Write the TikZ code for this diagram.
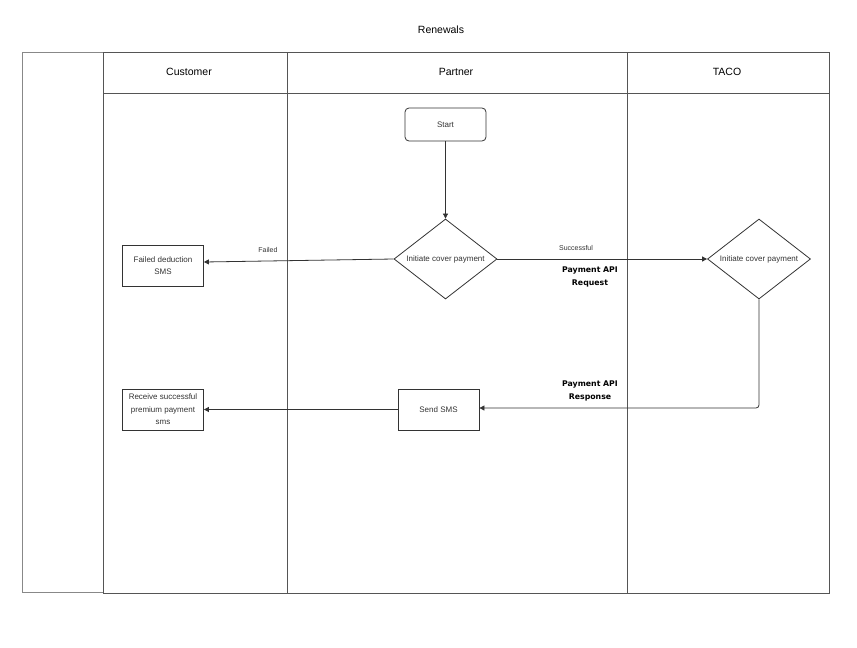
\documentclass[tikz,border=0pt]{standalone}
\usepackage{fontspec}
\setmainfont{Liberation Sans}
\newfontfamily\boldfam{DejaVu Sans}
\usetikzlibrary{shapes.geometric,arrows.meta}
\definecolor{ln}{HTML}{333333}
\definecolor{fr}{HTML}{555555}
\definecolor{tx}{HTML}{333333}
\tikzset{
  lane/.style={draw=fr, line width=0.9pt},
  box/.style={draw=ln, line width=0.8pt, minimum width=81pt, minimum height=41pt, align=center, font=\fontsize{8}{12.5}\selectfont, text=tx, inner sep=1pt},
  startbox/.style={box, rounded corners=4pt, minimum height=33pt},
  dia/.style={draw=ln, line width=0.8pt, diamond, minimum width=103pt, minimum height=80pt, aspect=1.3, inner sep=0pt, font=\fontsize{8}{10}\selectfont, text=tx},
  conn/.style={draw=ln, line width=0.8pt, -{Triangle[length=5pt,width=5pt]}},
  lbl/.style={font=\fontsize{7}{8}\selectfont, text=tx},
  blbl/.style={font=\boldfam\bfseries\fontsize{7.8}{13}\selectfont, align=center, text=black},
  hdr/.style={font=\fontsize{10.5}{12}\selectfont, text=black}
}
\begin{document}
\begin{tikzpicture}[x=1pt,y=-1pt]
\useasboundingbox (0,0) rectangle (857,648);
% pools
\draw[lane, draw=fr!70] (22,52) rectangle (103,592);
\draw[lane] (103,52) rectangle (829,593);
\draw[lane] (103,93) -- (829,93);
\draw[lane] (287,52) -- (287,593);
\draw[lane] (627,52) -- (627,593);
\node[hdr] (title) at (441,30) {Renewals};
\node[hdr] (hc) at (189,72) {Customer};
\node[hdr] (hp) at (456,72) {Partner};
\node[hdr] (ht) at (727,72) {TACO};
% nodes
\node[startbox] (start) at (445.5,124.5) {Start};
\node[dia] (d1) at (445.5,259) {Initiate cover payment};
\node[dia] (d2) at (759,259) {Initiate cover payment};
\node[box] (fail) at (163,265.5) {Failed deduction\\SMS};
\node[box] (recv) at (163,409.5) {Receive successful\\premium payment\\sms};
\node[box] (sms) at (438.5,409.5) {Send SMS};
\coordinate (c1) at (759,408);
% connectors
\draw[conn] (start) -- (d1);
\draw[conn] (d1.west) -- ([yshift=3.5pt]fail.east);
\draw[conn] (d1.east) -- (d2.west);
\draw[conn, rounded corners=3pt] (d2.south) -- (c1) -- (sms.east |- c1);
\draw[conn] (sms.west) -- (recv.east);
% labels
\node[lbl] (lf) at (268,250) {Failed};
\node[lbl] (ls) at (576,248) {Successful};
\node[blbl] (lreq) at (590,276.5) {Payment API\\Request};
\node[blbl] (lres) at (590,390.5) {Payment API\\Response};
\end{tikzpicture}
\end{document}
